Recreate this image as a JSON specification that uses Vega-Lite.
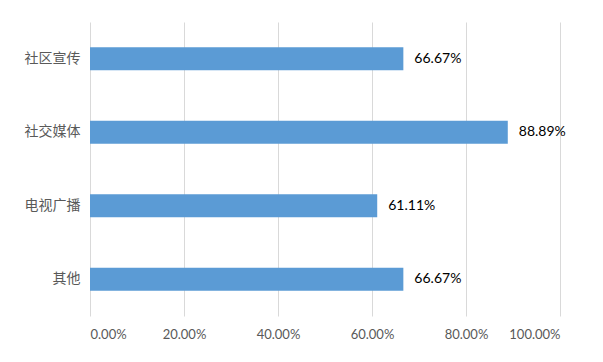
{
  "$schema": "https://vega.github.io/schema/vega-lite/v6.json",
  "width": 470,
  "height": 294,
  "autosize": {"type": "none"},
  "padding": {"left": 90, "top": 22, "right": 43, "bottom": 46},
  "background": "white",
  "config": {"view": {"stroke": null}},
  "data": {
    "values": [
      {"category": "社区宣传", "value": 0.6667},
      {"category": "社交媒体", "value": 0.8889},
      {"category": "电视广播", "value": 0.6111},
      {"category": "其他", "value": 0.6667}
    ]
  },
  "encoding": {
    "y": {
      "field": "category",
      "type": "nominal",
      "sort": null,
      "scale": {"paddingInner": 0.686, "paddingOuter": 0.343},
      "axis": {
        "title": null,
        "domain": false,
        "ticks": false,
        "labelPadding": 10,
        "labelFont": "Noto Sans CJK SC",
        "labelFontSize": 14,
        "labelColor": "#595959"
      }
    },
    "x": {
      "field": "value",
      "type": "quantitative",
      "scale": {"domain": [0, 1], "nice": false},
      "axis": {
        "title": null,
        "format": ".2%",
        "values": [0, 0.2, 0.4, 0.6, 0.8, 1.0],
        "domain": false,
        "ticks": false,
        "grid": true,
        "gridColor": "#D9D9D9",
        "gridWidth": 1,
        "labelPadding": 12,
        "labelFont": "Lato",
        "labelFontSize": 13,
        "labelColor": "#595959"
      }
    }
  },
  "layer": [
    {"mark": {"type": "bar", "color": "#5B9BD5"}},
    {
      "mark": {"type": "text", "align": "left", "baseline": "middle", "dx": 11, "font": "Lato", "fontSize": 14, "color": "#000000"},
      "encoding": {"text": {"field": "value", "type": "quantitative", "format": ".2%"}}
    }
  ]
}
